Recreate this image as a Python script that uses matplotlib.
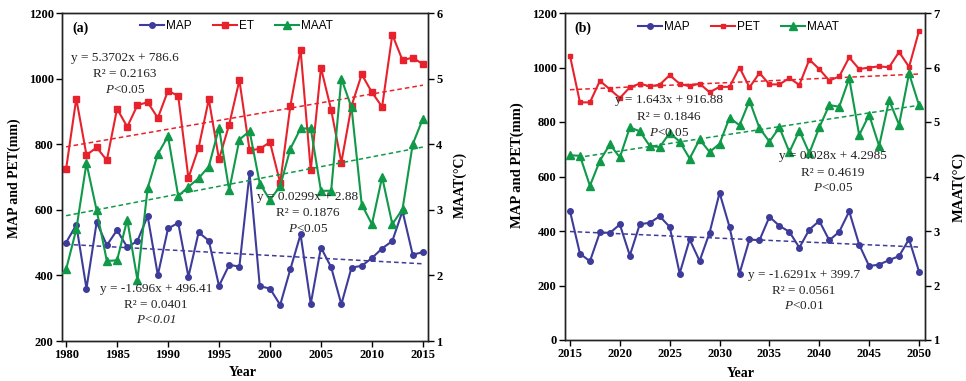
import numpy as np
import matplotlib
matplotlib.use("Agg")
import matplotlib.pyplot as plt

plt.rcParams['mathtext.fontset'] = 'custom'
plt.rcParams['mathtext.rm'] = 'Liberation Serif'
plt.rcParams['mathtext.it'] = 'Liberation Serif:italic'

SERIF = 'Liberation Serif'
SANS = 'Liberation Sans'

# ---------------- data: 1980-2015 (observed) ----------------
years_a = list(range(1980, 2016))
map_a = [500, 554, 360, 562, 492, 538, 486, 505, 581, 401, 543, 560, 396, 531, 506, 368,
         432, 427, 712, 367, 360, 310, 419, 525, 313, 485, 425, 312, 424, 429, 453, 482,
         505, 596, 463, 471]
et_a = [724, 939, 767, 790, 751, 908, 853, 919, 928, 880, 963, 947, 697, 789, 937, 754,
        860, 995, 781, 786, 806, 682, 917, 1088, 720, 1033, 905, 744, 917, 1013, 958, 914,
        1134, 1056, 1064, 1044]
maat_a = [2.09, 2.70, 3.71, 2.99, 2.22, 2.23, 2.85, 1.93, 3.33, 3.85, 4.12, 3.21, 3.35, 3.48,
          3.66, 4.25, 3.30, 4.07, 4.20, 3.40, 3.15, 3.36, 3.93, 4.24, 4.24, 3.29, 3.29, 5.00,
          4.56, 3.08, 2.78, 3.50, 2.78, 3.01, 4.00, 4.39]

# ---------------- data: 2015-2050 (projected) ----------------
years_b = list(range(2015, 2051))
map_b = [473, 317, 289, 395, 393, 424, 310, 425, 430, 454, 415, 244, 369, 290, 394, 540,
         415, 244, 369, 366, 452, 419, 397, 339, 405, 437, 366, 397, 472, 350, 271, 277,
         293, 308, 370, 251]
pet_b = [1043, 872, 872, 951, 920, 888, 927, 941, 931, 937, 972, 940, 931, 941, 909, 929,
         929, 1000, 927, 980, 938, 938, 961, 936, 1029, 994, 952, 967, 1037, 994, 1000, 1004,
         1001, 1057, 1002, 1134]
maat_b = [4.39, 4.38, 3.83, 4.29, 4.59, 4.35, 4.90, 4.83, 4.56, 4.54, 4.80, 4.64, 4.33, 4.68,
          4.45, 4.60, 5.08, 4.94, 5.39, 4.89, 4.64, 4.90, 4.45, 4.84, 4.43, 4.90, 5.31, 5.28,
          5.80, 4.76, 5.13, 4.56, 5.40, 4.95, 5.89, 5.31]

# linear trends as reported: (slope, intercept), x = 1..n
trend_map_a = (-1.696, 496.41)
trend_et_a = (5.3702, 786.6)
trend_maat_a = (0.0299, 2.88)
trend_map_b = (-1.6291, 399.7)
trend_pet_b = (1.643, 916.88)
trend_maat_b = (0.028, 4.2985)

C_MAP = '#3E3C9A'
C_ET = '#E8222C'
C_MAAT = '#0F9948'

fig = plt.figure(figsize=(9.66, 3.81), dpi=100)
W, H = 966, 381


def trend(ax, years, coef, color):
    x = np.arange(1, len(years) + 1)
    ax.plot(years, coef[0] * x + coef[1], color=color, lw=1.1, ls=(0, (3, 2)), zorder=2)


def style_axis(ax):
    for lab in ax.get_xticklabels() + ax.get_yticklabels():
        lab.set_fontfamily(SERIF)
        lab.set_fontweight('bold')
        lab.set_fontsize(9)
    ax.tick_params(direction='out', length=4, width=1, pad=2)
    for s in ax.spines.values():
        s.set_linewidth(1.0)
        s.set_color('#222222')


def panel(box, years, precip, evap, temp, evap_name, tr_p, tr_e, tr_t,
          xlim, xticks, ylim, yticks, y2lim, y2ticks, tag, ms_sq, texts, legend_xy,
          lab_pos, lab_size):
    x0, y0, x1, y1 = box
    ax = fig.add_axes([x0 / W, 1 - y1 / H, (x1 - x0) / W, (y1 - y0) / H])
    ax2 = ax.twinx()
    ax.plot(years, evap, color=C_ET, lw=1.5, marker='s', ms=ms_sq, zorder=3, label=evap_name)
    ax.plot(years, precip, color=C_MAP, lw=1.5, marker='o', ms=4, zorder=4, label='MAP')
    trend(ax, years, tr_e, C_ET)
    trend(ax, years, tr_p, C_MAP)
    ax2.plot(years, temp, color=C_MAAT, lw=1.5, marker='^', ms=5.5, zorder=3, label='MAAT')
    trend(ax2, years, tr_t, C_MAAT)

    ax.set_xlim(*xlim)
    ax.set_xticks(xticks)
    ax.set_ylim(*ylim)
    ax.set_yticks(yticks)
    ax2.set_ylim(*y2lim)
    ax2.set_yticks(y2ticks)
    style_axis(ax)
    style_axis(ax2)

    h1, l1 = ax.get_legend_handles_labels()
    h2, l2 = ax2.get_legend_handles_labels()
    order = [1, 0]
    handles = [h1[i] for i in order] + h2
    labels = [l1[i] for i in order] + l2
    ax2.legend(handles, labels, ncol=3, loc='center', bbox_to_anchor=legend_xy,
               frameon=False, prop={'family': SANS, 'size': 8.5}, handlelength=2.0,
               handletextpad=0.2, columnspacing=1.8, borderpad=0, borderaxespad=0)

    ax2.text(0.027, 0.953, tag, transform=ax.transAxes, ha='left', va='center',
             family=SERIF, fontweight='bold', fontsize=10)

    for (fx, fy, s, style) in texts:
        ax2.text(fx, fy, s, transform=ax.transAxes, ha='center', va='center',
                 family=SERIF, fontsize=9.5, fontstyle=style, color='#222222')

    (lx, ly), (rx, ry), (bx, by) = lab_pos
    ax.text(lx, ly, 'MAP and PET(mm)', transform=ax.transAxes, rotation=90,
            ha='center', va='center', family=SERIF, fontweight='bold', fontsize=lab_size)
    ax.text(rx, ry, 'MAAT(°C)', transform=ax.transAxes, rotation=90,
            ha='center', va='center', family=SERIF, fontweight='bold', fontsize=lab_size)
    ax.text(bx, by, 'Year', transform=ax.transAxes, ha='center', va='center',
            family=SERIF, fontweight='bold', fontsize=10)
    return ax, ax2


texts_a = [
    (0.172, 0.862, 'y = 5.3702x + 786.6', 'normal'),
    (0.172, 0.814, 'R² = 0.2163', 'normal'),
    (0.172, 0.765, r'$P$<0.05', 'normal'),
    (0.672, 0.439, 'y = 0.0299x + 2.88', 'normal'),
    (0.672, 0.390, 'R² = 0.1876', 'normal'),
    (0.672, 0.341, r'$P$<0.05', 'normal'),
    (0.257, 0.158, 'y = -1.696x + 496.41', 'normal'),
    (0.257, 0.110, 'R² = 0.0401', 'normal'),
    (0.257, 0.064, 'P<0.01', 'italic'),
]
texts_b = [
    (0.289, 0.734, 'y = 1.643x + 916.88', 'normal'),
    (0.289, 0.681, 'R² = 0.1846', 'normal'),
    (0.289, 0.632, r'$P$<0.05', 'normal'),
    (0.744, 0.562, 'y = 0.028x + 4.2985', 'normal'),
    (0.744, 0.512, 'R² = 0.4619', 'normal'),
    (0.744, 0.464, r'$P$<0.05', 'normal'),
    (0.664, 0.198, 'y = -1.6291x + 399.7', 'normal'),
    (0.664, 0.151, 'R² = 0.0561', 'normal'),
    (0.664, 0.103, r'$P$<0.01', 'normal'),
]

panel((62, 13, 428, 341), years_a, map_a, et_a, maat_a, 'ET',
      trend_map_a, trend_et_a, trend_maat_a,
      (1979.6, 2015.5), list(range(1980, 2016, 5)), (200, 1200), list(range(200, 1201, 200)),
      (1, 6), list(range(1, 7)), '(a)', 4, texts_a, (0.477, 0.960),
      ((-0.131, 0.497), (1.087, 0.476), (0.493, -0.097)), 10)

panel((565, 13, 925, 340), years_b, map_b, pet_b, maat_b, 'PET',
      trend_map_b, trend_pet_b, trend_maat_b,
      (2014.5, 2050.6), list(range(2015, 2051, 5)), (0, 1200), list(range(0, 1201, 200)),
      (1, 7), list(range(1, 8)), '(b)', 3.2, texts_b, (0.482, 0.958),
      ((-0.133, 0.534), (1.094, 0.467), (0.489, -0.102)), 10.5)

fig.savefig('out.png', dpi=100)
